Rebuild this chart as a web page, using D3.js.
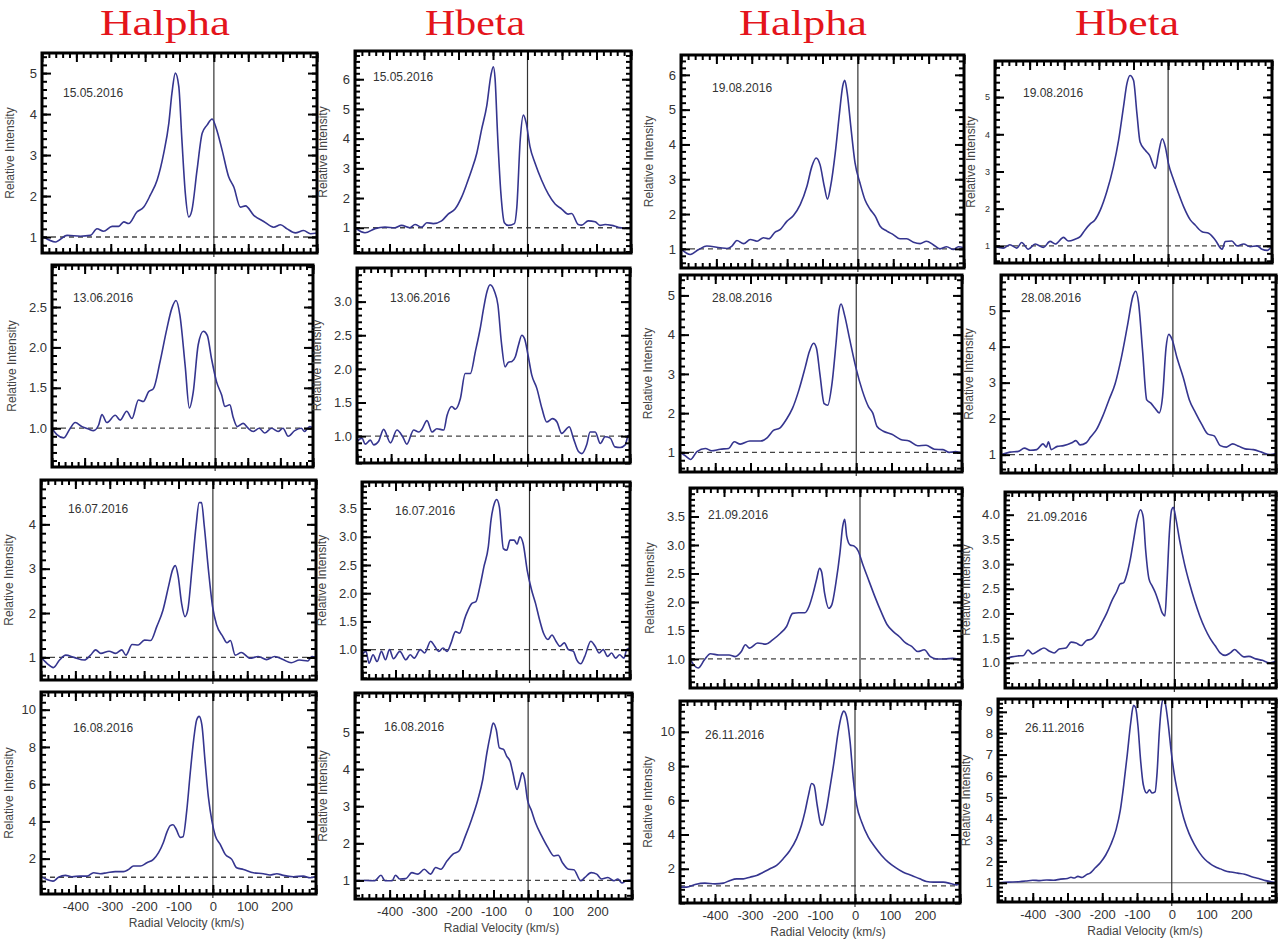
<!DOCTYPE html>
<html lang="en">
<head>
<meta charset="UTF-8">
<title>Halpha / Hbeta line profiles</title>
<script src="https://d3js.org/d3.v7.min.js"></script>
<style>
  body { margin: 0; background: #fff; }
  svg { font-family: Arial, "Liberation Sans", sans-serif; }
  .tick text { fill: #333; }
  .profile { fill: none; stroke: #35358f; stroke-width: 1.6; }
  .frame { fill: none; stroke: #000; stroke-width: 3; }
  .zero { stroke: #333; stroke-width: 1.2; }
  .cont { stroke: #444; stroke-width: 1.3; stroke-dasharray: 5,4; }
  .ytitle, .xtitle { fill: #444; font-size: 12px; }
  .date { fill: #333; font-size: 12px; }
  .head { fill: #e4141b; font-family: "Liberation Serif", "Times New Roman", serif; font-size: 36px; }
</style>
</head>
<body>
<svg id="chart" width="1281" height="943"></svg>
<script>
// column headings
const headings = ["Halpha", "Hbeta", "Halpha", "Hbeta"];
const xTickLabels = [-400, -300, -200, -100, 0, 100, 200];
const velDomain = [-500, 300];

// profiles: [radial velocity (km/s), relative intensity]
const haMay15 = [[-495,1.0],[-461,0.88],[-427,1.04],[-388,1.02],[-359,1.04],[-340,1.2],[-321,1.14],[-296,1.26],[-277,1.26],[-262,1.37],[-248,1.33],[-224,1.61],[-204,1.73],[-185,2.02],[-165,2.39],[-146,3.04],[-131,3.78],[-122,4.51],[-112,5.0],[-102,4.67],[-93,3.37],[-83,2.06],[-73,1.49],[-64,1.65],[-49,2.63],[-34,3.53],[-20,3.73],[-5,3.88],[7,3.65],[24,3.12],[43,2.47],[58,2.22],[77,1.73],[92,1.76],[116,1.53],[145,1.38],[174,1.24],[194,1.3],[213,1.2],[237,1.1],[261,1.16],[281,1.08],[300,1.1]];
const hbMay15 = [[-500,1.0],[-471,0.83],[-442,0.97],[-413,1.02],[-384,1.0],[-365,1.08],[-341,1.0],[-326,1.11],[-307,1.02],[-292,1.17],[-273,1.14],[-249,1.23],[-230,1.46],[-210,1.63],[-191,2.03],[-176,2.48],[-162,2.94],[-147,3.51],[-133,4.31],[-118,5.11],[-106,6.14],[-99,6.42],[-94,6.02],[-87,4.2],[-77,2.14],[-67,1.17],[-56,1.08],[-38,1.14],[-31,1.68],[-21,3.97],[-12,4.79],[-4,4.54],[7,3.74],[22,3.17],[41,2.6],[60,2.14],[80,1.8],[99,1.63],[118,1.46],[128,1.48],[147,1.11],[157,1.09],[176,1.23],[196,1.2],[210,1.08],[225,1.11],[244,1.08],[263,1.02],[282,0.98],[300,1.02]];
const haJun13 = [[-500,1.0],[-485,0.92],[-464,0.88],[-444,1.0],[-429,1.07],[-408,1.02],[-388,0.99],[-373,0.97],[-357,1.04],[-347,1.17],[-332,1.07],[-306,1.16],[-291,1.1],[-271,1.21],[-255,1.12],[-235,1.35],[-220,1.33],[-204,1.45],[-189,1.49],[-169,1.82],[-148,2.23],[-133,2.48],[-120,2.58],[-108,2.4],[-92,1.78],[-79,1.25],[-67,1.45],[-52,2.03],[-36,2.2],[-24,2.15],[-11,1.86],[4,1.58],[20,1.41],[30,1.27],[45,1.29],[55,1.14],[68,1.02],[86,1.06],[101,1.0],[117,0.96],[135,1.0],[152,0.94],[173,1.0],[193,0.96],[208,1.0],[224,0.9],[244,0.97],[264,1.0],[274,0.96],[290,1.02],[300,1.0]];
const hbJun13 = [[-500,0.92],[-485,0.97],[-476,0.88],[-461,0.94],[-451,0.87],[-437,0.92],[-422,1.1],[-402,0.9],[-383,1.09],[-366,0.99],[-354,0.88],[-334,1.09],[-319,1.06],[-310,1.1],[-295,1.23],[-280,1.06],[-266,1.11],[-246,1.09],[-236,1.31],[-222,1.44],[-212,1.4],[-197,1.56],[-183,1.93],[-168,1.93],[-153,2.26],[-139,2.6],[-129,2.9],[-119,3.15],[-110,3.25],[-97,3.15],[-87,2.95],[-77,2.4],[-66,2.03],[-56,2.1],[-46,2.11],[-36,2.18],[-27,2.35],[-17,2.5],[-9,2.45],[1,2.21],[12,1.91],[27,1.71],[42,1.41],[56,1.21],[73,1.26],[86,1.21],[100,1.04],[122,1.14],[134,0.97],[149,0.77],[159,0.74],[173,0.87],[183,1.06],[198,1.06],[213,0.89],[227,0.99],[242,0.97],[256,0.84],[271,0.83],[286,0.87],[295,1.01],[300,1.01]];
const haJul16 = [[-500,1.0],[-482,0.86],[-464,0.77],[-446,0.94],[-428,1.05],[-404,1.0],[-374,0.94],[-356,1.05],[-341,1.17],[-326,1.09],[-302,1.14],[-283,1.09],[-265,1.17],[-253,1.05],[-235,1.29],[-217,1.28],[-199,1.39],[-181,1.38],[-163,1.7],[-145,2.07],[-129,2.6],[-117,2.98],[-109,3.07],[-101,2.83],[-91,2.22],[-81,1.92],[-73,2.07],[-61,2.98],[-49,3.96],[-40,4.49],[-33,4.49],[-25,3.96],[-13,2.98],[-1,2.15],[11,1.73],[29,1.47],[41,1.33],[51,1.38],[65,1.05],[83,1.11],[108,0.98],[132,1.02],[156,0.95],[180,1.02],[204,0.95],[228,0.88],[252,0.94],[276,0.92],[288,1.02],[300,1.0]];
const hbJul16 = [[-500,0.91],[-488,0.97],[-479,0.76],[-467,0.91],[-455,0.79],[-442,0.97],[-430,0.82],[-418,1.0],[-406,0.84],[-387,0.97],[-369,0.82],[-356,0.91],[-344,0.85],[-326,1.0],[-313,0.94],[-295,1.15],[-283,1.06],[-271,0.97],[-258,1.03],[-246,0.97],[-234,1.12],[-221,1.32],[-209,1.29],[-191,1.59],[-172,1.82],[-160,1.85],[-148,2.12],[-136,2.47],[-123,2.82],[-115,3.29],[-105,3.59],[-98,3.66],[-90,3.53],[-78,2.79],[-68,2.76],[-58,2.94],[-46,2.94],[-37,2.87],[-29,3.0],[-19,2.88],[-7,2.41],[6,2.06],[18,1.82],[30,1.53],[42,1.29],[55,1.18],[67,1.26],[79,1.15],[91,1.06],[104,1.12],[116,1.0],[131,0.97],[141,0.82],[153,0.75],[165,0.88],[183,1.15],[196,1.06],[208,0.94],[220,1.0],[233,0.88],[245,0.94],[257,0.85],[269,0.91],[282,0.85],[290,1.0],[300,1.03]];
const haAug16 = [[-500,1.03],[-483,0.88],[-465,0.79],[-449,1.0],[-429,1.1],[-410,1.03],[-386,1.06],[-366,1.06],[-347,1.24],[-328,1.19],[-308,1.24],[-284,1.3],[-260,1.3],[-245,1.42],[-231,1.6],[-211,1.6],[-192,1.78],[-173,1.96],[-158,2.32],[-144,2.87],[-134,3.41],[-124,3.77],[-116,3.82],[-107,3.59],[-95,3.14],[-87,3.17],[-76,4.58],[-66,6.57],[-56,8.37],[-47,9.46],[-40,9.64],[-32,9.18],[-23,7.29],[-13,5.3],[-3,4.04],[7,3.23],[21,2.78],[36,2.23],[55,1.96],[69,1.51],[89,1.42],[118,1.24],[147,1.19],[166,1.12],[186,1.19],[205,1.1],[234,1.03],[263,1.06],[283,0.97],[300,1.06]];
const hbAug16 = [[-500,1.0],[-467,1.0],[-443,0.99],[-425,1.14],[-413,0.99],[-393,0.99],[-383,1.14],[-371,1.04],[-353,1.05],[-336,1.21],[-318,1.17],[-300,1.3],[-282,1.17],[-267,1.35],[-252,1.3],[-234,1.53],[-217,1.71],[-199,1.8],[-181,2.2],[-163,2.65],[-145,3.18],[-131,3.72],[-119,4.44],[-109,4.93],[-101,5.24],[-92,5.06],[-83,4.57],[-71,4.53],[-62,4.35],[-52,4.21],[-44,3.9],[-32,3.45],[-24,3.68],[-17,3.9],[-11,3.77],[-2,3.18],[10,2.87],[21,2.56],[39,2.2],[57,1.89],[75,1.66],[87,1.68],[99,1.48],[117,1.3],[132,1.29],[152,0.99],[164,1.08],[182,1.21],[198,1.17],[212,1.04],[230,1.08],[248,0.99],[259,1.04],[271,0.93],[283,0.99],[300,1.01]];
const haAug19 = [[-500,1.0],[-474,0.84],[-450,0.98],[-427,1.08],[-389,1.03],[-370,1.01],[-356,1.08],[-342,1.24],[-323,1.15],[-304,1.27],[-285,1.22],[-267,1.32],[-252,1.29],[-234,1.48],[-220,1.55],[-201,1.79],[-182,1.96],[-163,2.27],[-144,2.8],[-130,3.37],[-118,3.61],[-107,3.42],[-95,2.8],[-86,2.43],[-77,2.8],[-64,3.75],[-52,4.9],[-43,5.67],[-37,5.84],[-30,5.47],[-20,4.52],[-8,3.47],[6,2.89],[20,2.41],[35,2.13],[49,1.94],[63,1.65],[82,1.51],[100,1.41],[119,1.29],[138,1.29],[157,1.19],[176,1.15],[194,1.22],[213,1.12],[232,1.0],[251,1.06],[270,0.98],[284,1.06],[300,1.03]];
const hbAug19 = [[-500,0.98],[-476,0.94],[-457,1.03],[-437,0.94],[-423,1.09],[-404,0.91],[-384,1.05],[-360,0.96],[-341,1.12],[-326,1.05],[-302,1.23],[-288,1.13],[-269,1.18],[-254,1.25],[-240,1.43],[-225,1.59],[-211,1.7],[-196,1.96],[-177,2.46],[-158,3.13],[-143,3.84],[-129,4.73],[-119,5.36],[-110,5.58],[-100,5.45],[-90,4.55],[-81,3.79],[-66,3.57],[-54,3.44],[-37,3.08],[-28,3.48],[-17,3.88],[-8,3.66],[1,3.21],[16,2.77],[30,2.41],[45,2.05],[64,1.7],[78,1.56],[98,1.38],[117,1.34],[136,1.16],[156,0.91],[165,1.12],[184,1.13],[199,1.0],[218,1.05],[237,0.98],[257,1.0],[271,0.91],[286,0.88],[300,1.0]];
const haAug28 = [[-500,1.0],[-486,0.92],[-470,0.82],[-452,1.02],[-428,1.1],[-410,1.04],[-386,1.08],[-362,1.1],[-346,1.27],[-329,1.21],[-302,1.29],[-271,1.29],[-253,1.37],[-235,1.56],[-217,1.62],[-199,1.83],[-181,2.12],[-163,2.58],[-145,3.16],[-133,3.57],[-121,3.78],[-113,3.66],[-103,2.99],[-91,2.24],[-81,2.2],[-69,2.74],[-57,3.82],[-49,4.61],[-43,4.78],[-33,4.49],[-19,3.9],[-1,3.16],[17,2.58],[35,2.16],[47,2.0],[59,1.66],[77,1.54],[101,1.46],[126,1.33],[150,1.29],[174,1.17],[198,1.18],[222,1.08],[246,1.07],[264,1.0],[282,1.02],[300,0.98]];
const hbAug28 = [[-500,1.0],[-474,1.07],[-450,1.09],[-432,1.18],[-414,1.12],[-396,1.14],[-378,1.3],[-368,1.21],[-362,1.36],[-354,1.14],[-336,1.23],[-318,1.25],[-294,1.33],[-282,1.39],[-270,1.27],[-252,1.33],[-240,1.48],[-222,1.7],[-204,2.07],[-186,2.52],[-168,2.97],[-150,3.69],[-132,4.59],[-116,5.41],[-108,5.54],[-100,5.23],[-88,3.87],[-76,2.52],[-64,2.43],[-52,2.29],[-40,2.16],[-30,2.61],[-20,3.96],[-12,4.34],[-2,4.19],[12,3.69],[30,3.15],[48,2.52],[66,2.16],[84,1.84],[102,1.57],[120,1.52],[138,1.25],[156,1.21],[174,1.3],[192,1.23],[210,1.16],[234,1.14],[258,1.07],[282,1.0],[300,1.03]];
const haSep21 = [[-500,1.0],[-488,0.89],[-476,0.84],[-458,0.98],[-440,1.09],[-415,1.07],[-385,1.07],[-367,1.04],[-349,1.13],[-337,1.25],[-325,1.19],[-301,1.28],[-277,1.26],[-258,1.33],[-234,1.45],[-216,1.57],[-198,1.8],[-180,1.81],[-162,1.81],[-150,1.92],[-138,2.15],[-128,2.39],[-119,2.59],[-113,2.53],[-104,2.15],[-92,1.89],[-83,1.95],[-71,2.33],[-59,2.86],[-51,3.32],[-45,3.45],[-39,3.15],[-29,3.0],[-17,2.98],[-5,2.89],[7,2.68],[25,2.39],[44,2.09],[62,1.83],[80,1.6],[98,1.48],[116,1.39],[134,1.28],[152,1.22],[170,1.13],[189,1.16],[207,1.04],[225,1.0],[249,1.0],[273,1.01],[300,0.98]];
const hbSep21 = [[-500,1.08],[-480,1.12],[-460,1.14],[-445,1.15],[-432,1.26],[-418,1.18],[-400,1.25],[-385,1.3],[-370,1.24],[-355,1.2],[-340,1.28],[-320,1.3],[-305,1.42],[-290,1.4],[-275,1.35],[-260,1.45],[-245,1.48],[-230,1.6],[-215,1.8],[-200,2.0],[-185,2.25],[-170,2.45],[-160,2.6],[-150,2.62],[-140,2.8],[-130,3.1],[-120,3.5],[-110,3.9],[-100,4.1],[-92,3.95],[-85,3.3],[-75,2.7],[-65,2.55],[-55,2.4],[-45,2.2],[-35,2.0],[-28,1.95],[-22,2.6],[-15,3.6],[-8,4.1],[-3,4.15],[5,3.9],[15,3.5],[30,3.0],[45,2.6],[60,2.25],[75,1.95],[90,1.7],[105,1.5],[120,1.35],[135,1.2],[150,1.15],[165,1.2],[178,1.27],[190,1.2],[205,1.12],[220,1.13],[240,1.08],[260,1.05],[280,1.0],[300,1.03]];
const haNov26 = [[-500,0.93],[-481,0.93],[-457,1.08],[-429,1.16],[-400,1.12],[-376,1.16],[-357,1.32],[-338,1.41],[-319,1.41],[-300,1.51],[-281,1.61],[-262,1.8],[-243,2.0],[-224,2.2],[-205,2.59],[-186,3.07],[-167,3.76],[-153,4.54],[-143,5.32],[-133,6.29],[-124,6.98],[-117,6.88],[-108,5.71],[-98,4.63],[-93,4.54],[-83,5.32],[-72,6.68],[-60,8.24],[-48,10.0],[-38,10.98],[-32,11.21],[-24,10.88],[-14,9.41],[-5,7.27],[5,5.71],[19,4.73],[38,3.85],[57,3.27],[76,2.78],[95,2.39],[114,2.1],[138,1.8],[162,1.61],[185,1.41],[204,1.26],[224,1.22],[252,1.22],[276,1.12],[290,1.06],[300,1.16]];
const hbNov26 = [[-500,1.0],[-470,1.03],[-440,1.05],[-420,1.08],[-400,1.12],[-380,1.1],[-360,1.13],[-340,1.12],[-320,1.17],[-300,1.2],[-290,1.26],[-280,1.22],[-270,1.3],[-258,1.25],[-245,1.38],[-235,1.45],[-220,1.7],[-205,1.95],[-190,2.3],[-175,2.8],[-160,3.5],[-148,4.4],[-138,5.6],[-128,7.0],[-118,8.5],[-110,9.3],[-104,9.2],[-97,8.3],[-90,6.8],[-82,5.6],[-72,5.2],[-64,5.35],[-57,5.2],[-48,5.25],[-42,6.2],[-36,8.0],[-30,9.2],[-24,9.6],[-18,9.35],[-10,8.4],[-2,7.2],[8,6.0],[20,5.0],[35,4.0],[50,3.3],[65,2.8],[80,2.4],[95,2.1],[110,1.9],[125,1.75],[140,1.65],[155,1.55],[170,1.5],[190,1.45],[210,1.4],[230,1.28],[250,1.2],[270,1.1],[290,1.03],[300,1.0]];

// panel contents: date, profile, y tick labels, y range
const panels = [
  {date: "15.05.2016", data: haMay15, yTicks: [1, 2, 3, 4, 5], yDomain: [0.61, 5.49]},
  {date: "13.06.2016", data: haJun13, yTicks: [1.0, 1.5, 2.0, 2.5], yDomain: [0.52, 3.02]},
  {date: "16.07.2016", data: haJul16, yTicks: [1, 2, 3, 4], yDomain: [0.49, 5.0]},
  {date: "16.08.2016", data: haAug16, yTicks: [2, 4, 6, 8, 10], yDomain: [0.1, 10.95]},
  {date: "15.05.2016", data: hbMay15, yTicks: [1, 2, 3, 4, 5, 6], yDomain: [0.15, 6.95]},
  {date: "13.06.2016", data: hbJun13, yTicks: [1.0, 1.5, 2.0, 2.5, 3.0], yDomain: [0.6, 3.5]},
  {date: "16.07.2016", data: hbJul16, yTicks: [1.0, 1.5, 2.0, 2.5, 3.0, 3.5], yDomain: [0.48, 3.97]},
  {date: "16.08.2016", data: hbAug16, yTicks: [1, 2, 3, 4, 5], yDomain: [0.5, 6.05]},
  {date: "19.08.2016", data: haAug19, yTicks: [1, 2, 3, 4, 5, 6], yDomain: [0.45, 6.57]},
  {date: "28.08.2016", data: haAug28, yTicks: [1, 2, 3, 4, 5], yDomain: [0.5, 5.52]},
  {date: "21.09.2016", data: haSep21, yTicks: [1.0, 1.5, 2.0, 2.5, 3.0, 3.5], yDomain: [0.49, 4.0]},
  {date: "26.11.2016", data: haNov26, yTicks: [2, 4, 6, 8, 10], yDomain: [0.0, 11.8]},
  {date: "19.08.2016", data: hbAug19, yTicks: [1, 2, 3, 4, 5], yDomain: [0.54, 5.97]},
  {date: "28.08.2016", data: hbAug28, yTicks: [1, 2, 3, 4, 5], yDomain: [0.49, 5.99]},
  {date: "21.09.2016", data: hbSep21, yTicks: [1.0, 1.5, 2.0, 2.5, 3.0, 3.5, 4.0], yDomain: [0.49, 4.46]},
  {date: "26.11.2016", data: hbNov26, yTicks: [1, 2, 3, 4, 5, 6, 7, 8, 9], yDomain: [0.1, 9.6]}
];

// where each panel sits on the page: frame [x0, x1, y0, y1], date offset, label size
const layout = [
  {box: [42, 317, 53, 253], dt: [21, 44], fs: 13},
  {box: [52, 313, 265, 467], dt: [21, 37], fs: 13},
  {box: [41, 316, 480, 680], dt: [27, 33], fs: 13},
  {box: [41, 316, 692, 894], dt: [32, 40], fs: 13, bottom: true},
  {box: [355, 631, 51, 253], dt: [18, 30], fs: 13},
  {box: [357, 630, 268, 463], dt: [33, 34], fs: 13},
  {box: [362, 630, 482, 679], dt: [33, 33], fs: 13},
  {box: [355, 632, 693, 899], dt: [29, 38], fs: 13, bottom: true},
  {box: [681, 964, 55, 268], dt: [31, 37], fs: 13},
  {box: [680, 962, 275, 472], dt: [32, 27], fs: 13},
  {box: [690, 962, 488, 688], dt: [18, 31], fs: 13},
  {box: [680, 960, 701, 903], dt: [25, 38], fs: 13, bottom: true},
  {box: [995, 1272, 61, 263], dt: [28, 36], fs: 9},
  {box: [1001, 1276, 275, 473], dt: [20, 27], fs: 13},
  {box: [1005, 1276, 492, 688], dt: [22, 29], fs: 13, yOff: 35},
  {box: [998, 1276, 699, 902], dt: [27, 33], fs: 13, bottom: true, solidRef: true}
];
const headX = [165, 475, 803, 1127];
const headW = [130, 100, 128, 104];

const svg = d3.select("#chart");

svg.selectAll(".head")
    .data(headings)
    .join("text")
    .attr("class", "head")
    .attr("x", (d, i) => headX[i] - headW[i] / 2)
    .attr("y", 35)
    .attr("textLength", (d, i) => headW[i])
    .attr("lengthAdjust", "spacingAndGlyphs")
    .text(d => d);

function minorValues(lo, hi, m) {
    return d3.range(Math.ceil(lo / m - 1e-9), Math.floor(hi / m + 1e-9) + 1).map(k => +(k * m).toFixed(4));
}

// axis helper: strip the domain path and force black tick strokes
function styleAxis(sel) {
    sel.select(".domain").remove();
    sel.selectAll(".tick line")
        .attr("stroke", "#000")
        .attr("stroke-width", 2);
}

panels.forEach((p, i) => {
    const L = layout[i];
    const [bx0, bx1, by0, by1] = L.box;
    const x = d3.scaleLinear().domain(velDomain).range([bx0, bx1]);
    const y = d3.scaleLinear().domain(p.yDomain).range([by1, by0]);
    const step = p.yTicks[1] - p.yTicks[0];
    const decimals = step < 1;
    const fmt = decimals ? d3.format(".1f") : d3.format("d");
    const yMinor = minorValues(p.yDomain[0], p.yDomain[1], step / 5);
    const xMajor = d3.range(-500, 301, 100);
    const xMinor = d3.range(-500, 301, 20);
    const major = 9, minor = 5;

    const g = svg.append("g");

    g.append("clipPath").attr("id", "clip" + i)
        .append("rect")
        .attr("x", bx0).attr("y", by0)
        .attr("width", bx1 - bx0).attr("height", by1 - by0);

    // reference lines
    g.append("line")
        .attr("class", "cont")
        .attr("x1", bx0).attr("x2", bx1)
        .attr("y1", y(1)).attr("y2", y(1))
        .style("stroke-dasharray", L.solidRef ? "none" : null)
        .style("stroke", L.solidRef ? "#777" : null)
        .style("stroke-width", L.solidRef ? 1 : null);
    g.append("line")
        .attr("class", "zero")
        .attr("x1", x(0)).attr("x2", x(0))
        .attr("y1", by0).attr("y2", by1 + 4);

    // profile
    g.append("path")
        .datum(p.data)
        .attr("class", "profile")
        .attr("clip-path", "url(#clip" + i + ")")
        .attr("d", d3.line()
            .x(d => x(d[0]))
            .y(d => y(d[1]))
            .curve(d3.curveMonotoneX));

    // y axes, left with labels, right ticks only
    g.append("g").attr("transform", `translate(${bx0},0)`)
        .call(d3.axisLeft(y).tickValues(yMinor).tickSize(-minor).tickFormat(""))
        .call(styleAxis);
    g.append("g").attr("transform", `translate(${bx0},0)`)
        .call(d3.axisLeft(y).tickValues(p.yTicks).tickSize(-major).tickPadding(5).tickFormat(fmt))
        .call(styleAxis)
        .selectAll("text").style("font-size", L.fs + "px");
    g.append("g").attr("transform", `translate(${bx1},0)`)
        .call(d3.axisRight(y).tickValues(yMinor).tickSize(-minor).tickFormat(""))
        .call(styleAxis);
    g.append("g").attr("transform", `translate(${bx1},0)`)
        .call(d3.axisRight(y).tickValues(p.yTicks).tickSize(-major).tickFormat(""))
        .call(styleAxis);

    // x axes, top and bottom
    g.append("g").attr("transform", `translate(0,${by0})`)
        .call(d3.axisTop(x).tickValues(xMinor).tickSize(-minor).tickFormat(""))
        .call(styleAxis);
    g.append("g").attr("transform", `translate(0,${by0})`)
        .call(d3.axisTop(x).tickValues(xMajor).tickSize(-major).tickFormat(""))
        .call(styleAxis);
    g.append("g").attr("transform", `translate(0,${by1})`)
        .call(d3.axisBottom(x).tickValues(xMinor).tickSize(-minor).tickFormat(""))
        .call(styleAxis);
    const xb = g.append("g").attr("transform", `translate(0,${by1})`)
        .call(d3.axisBottom(x).tickValues(xMajor).tickSize(-major).tickPadding(8)
            .tickFormat(d => (L.bottom && xTickLabels.includes(d)) ? d : ""))
        .call(styleAxis);
    xb.selectAll("text").style("font-size", "13px");

    g.append("rect")
        .attr("class", "frame")
        .attr("x", bx0).attr("y", by0)
        .attr("width", bx1 - bx0).attr("height", by1 - by0);

    // labels
    g.append("text")
        .attr("class", "date")
        .attr("x", bx0 + L.dt[0])
        .attr("y", by0 + L.dt[1])
        .text(p.date);

    const yOff = L.yOff || (L.fs < 10 ? 20 : (decimals ? 36 : 28));
    g.append("text")
        .attr("class", "ytitle")
        .attr("transform", `translate(${bx0 - yOff},${(by0 + by1) / 2}) rotate(-90)`)
        .attr("text-anchor", "middle")
        .text("Relative Intensity");

    if (L.bottom) {
        g.append("text")
            .attr("class", "xtitle")
            .attr("x", (bx0 + bx1) / 2 + 8)
            .attr("y", by1 + 33)
            .attr("text-anchor", "middle")
            .text("Radial Velocity (km/s)");
    }
});
</script>
</body>
</html>
